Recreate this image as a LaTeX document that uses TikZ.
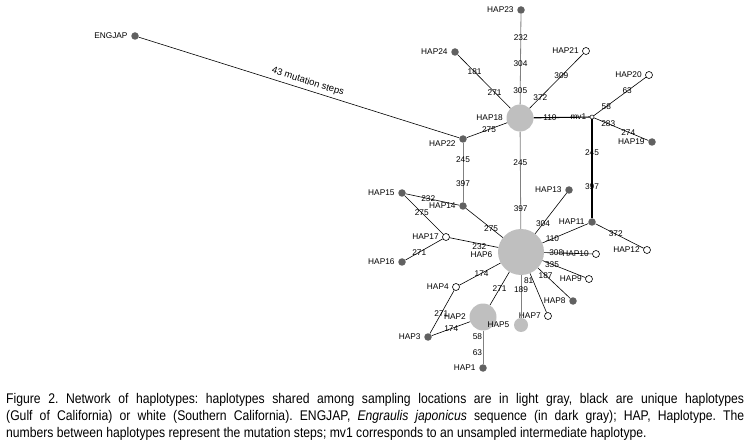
\documentclass[tikz,border=0pt]{standalone}
\usepackage{fontspec}
\setsansfont{Liberation Sans}
\newfontfamily\capfont[FakeStretch=0.87]{Liberation Sans}
\usetikzlibrary{positioning}

\begin{document}
\begin{tikzpicture}[x=1pt,y=-1pt,font=\sffamily\fontsize{8.3}{10}\selectfont,
    hap/.style={circle,inner sep=0pt,minimum size=7.5pt,label distance=-1pt},
    shared/.style={hap,fill=black!25},
    gulf/.style={hap,fill=black!62},
    socal/.style={hap,draw=black,line width=0.6pt,fill=white,minimum size=7pt},
    mut/.style={inner sep=0.5pt,text=black},
    link/.style={black,line width=0.6pt},
    trunk/.style={black!50,line width=0.8pt},
    heavy/.style={black,line width=1.1pt}]
        \useasboundingbox (0,0) rectangle (752,446);

        \node[gulf,label=left:ENGJAP] (engjap) at (135,36) {};
        \node[gulf,label=left:HAP23] (h23) at (521,10) {};
        \node[gulf,label=left:HAP24] (h24) at (455,52) {};
        \node[socal,label=left:HAP21] (h21) at (586,51) {};
        \node[socal,label=left:HAP20] (h20) at (649,75) {};
        \node[shared,minimum size=27pt,label=left:HAP18] (h18) at (520,118) {};
        \node[socal,minimum size=4pt,line width=0.5pt,label=left:mv1] (mv1) at (592,117) {};
        \node[gulf,label=left:HAP19] (h19) at (652,142) {};
        \node[gulf,label={[yshift=-5pt]left:HAP22}] (h22) at (463,139) {};
        \node[gulf,label=left:HAP15] (h15) at (402,193) {};
        \node[gulf,label=left:HAP14] (h14) at (463,206) {};
        \node[socal,label=left:HAP17] (h17) at (446,237) {};
        \node[gulf,label=left:HAP16] (h16) at (402,262) {};
        \node[gulf,label=left:HAP13] (h13) at (569,190) {};
        \node[gulf,label=left:HAP11] (h11) at (592,222) {};
        \node[socal,label=left:HAP12] (h12) at (647,250) {};
        \node[shared,minimum size=46pt,label={[yshift=-3pt,label distance=2pt]left:HAP6}] (h6) at (521,252) {};
        \node[socal,label=left:HAP10] (h10) at (596,254) {};
        \node[socal,label=left:HAP9] (h9) at (589,279) {};
        \node[gulf,label=left:HAP8] (h8) at (573,301) {};
        \node[socal,label=left:HAP7] (h7) at (548,316) {};
        \node[shared,minimum size=27pt,label=left:HAP2] (h2) at (483,317) {};
        \node[shared,minimum size=14pt,label={[label distance=1pt]left:HAP5}] (h5) at (521,325) {};
        \node[socal,label=left:HAP4] (h4) at (456,287) {};
        \node[gulf,label=left:HAP3] (h3) at (428,337) {};
        \node[gulf,label=left:HAP1] (h1) at (483,368) {};

        \draw[trunk] (h23) -- node[mut,pos=.26]{232} node[mut,pos=.55]{304} node[mut,pos=.85]{305} (h18);
        \draw[link] (h24) -- node[mut,pos=.32]{181} node[mut,pos=.7]{271} (h18);
        \draw[link] (h21) -- node[mut,pos=.41]{309} node[mut,pos=.8]{372} (h18);
        \draw[heavy] (h18) -- node[mut,pos=.29]{110} (mv1);
        \draw[link] (mv1) -- node[mut,pos=.24]{58} node[mut,pos=.64]{63} (h20);
        \draw[link] (mv1) -- node[mut,pos=.26]{283} node[mut,pos=.63]{274} (h19);
        \draw[heavy] (mv1) -- node[mut,pos=.34]{245} node[mut,pos=.68]{397} (h11);
        \draw[link] (h18) -- node[mut,pos=.45]{275} (h22);
        \draw[link] (engjap) -- node[pos=.52,sloped,above,font=\sffamily\fontsize{9.5}{11}\selectfont]{43 mutation steps} (h22);
        \draw[trunk] (h22) -- node[mut,pos=.29]{245} node[mut,pos=.69]{397} (h14);
        \draw[trunk] (h18) -- node[mut,pos=.32]{245} node[mut,pos=.79]{397} (h6);
        \draw[link] (h14) -- node[mut,pos=.58]{232} (h15);
        \draw[link] (h14) -- node[mut,pos=.68]{275} (h6);
        \draw[link] (h15) -- node[mut,pos=.44]{275} (h17);
        \draw[link] (h17) -- node[mut,pos=.63]{271} (h16);
        \draw[link] (h17) -- node[mut,pos=.61,below=-1pt]{232} (h6);
        \draw[link] (h13) -- node[mut,pos=.75]{304} (h6);
        \draw[link] (h11) -- node[mut,pos=.78]{110} (h6);
        \draw[link] (h11) -- node[mut,pos=.42]{372} (h12);
        \draw[link] (h6) -- node[mut,pos=.25]{308} (h10);
        \draw[link] (h6) -- node[mut,pos=.22]{335} (h9);
        \draw[link] (h6) -- node[mut,pos=.24]{187} (h8);
        \draw[link] (h6) -- node[mut,pos=.19,left=-1pt]{81} (h7);
        \draw[trunk] (h6) -- node[mut,pos=.35]{189} (h5);
        \draw[link] (h6) -- node[mut,pos=.5]{271} (h2);
        \draw[link] (h6) -- node[mut,pos=.46]{174} (h4);
        \draw[link] (h4) -- node[mut,pos=.53]{271} (h3);
        \draw[link] (h3) -- node[mut,pos=.51]{174} (h2);
        \draw[trunk] (h2) -- node[mut,pos=.17,left]{58} node[mut,pos=.67,left]{63} (h1);

        \node[anchor=north west,text width=738pt,align=justify,inner sep=0pt,
            font=\capfont\fontsize{14}{17}\selectfont\frenchspacing] (caption) at (6,393)
            {Figure 2. Network of haplotypes: haplotypes shared among sampling locations are in light gray, black are unique haplotypes\linebreak
            (Gulf of California) or white (Southern California). ENGJAP, \textit{Engraulis japonicus} sequence (in dark gray); HAP, Haplotype. The\linebreak
            numbers between haplotypes represent the mutation steps; mv1 corresponds to an unsampled intermediate haplotype.};
    \end{tikzpicture}
\end{document}
